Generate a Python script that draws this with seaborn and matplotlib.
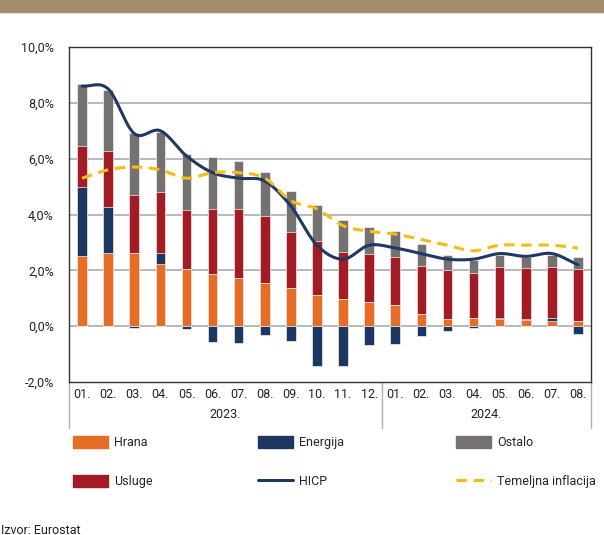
import numpy as np
import pandas as pd
import seaborn as sns
import matplotlib.pyplot as plt
from matplotlib.lines import Line2D
from matplotlib.patches import Patch, Rectangle
import matplotlib.transforms as mtrans

# contributions to HICP, percentage points
months = ['01.', '02.', '03.', '04.', '05.', '06.', '07.', '08.', '09.', '10.', '11.', '12.',
          '01.', '02.', '03.', '04.', '05.', '06.', '07.', '08.']
years = ['2023.', '2024.']
hrana = [2.50, 2.63, 2.61, 2.24, 2.04, 1.88, 1.74, 1.54, 1.35, 1.10, 0.99, 0.87,
         0.77, 0.45, 0.26, 0.29, 0.25, 0.23, 0.19, 0.19]
energija = [2.50, 1.64, -0.05, 0.37, -0.10, -0.55, -0.62, -0.33, -0.54, -1.44, -1.42, -0.68,
            -0.64, -0.37, -0.18, -0.05, 0.04, 0.02, 0.12, -0.29]
usluge = [1.45, 2.02, 2.09, 2.20, 2.13, 2.30, 2.44, 2.39, 2.04, 1.95, 1.68, 1.73,
          1.72, 1.72, 1.74, 1.63, 1.84, 1.85, 1.82, 1.86]
ostalo = [2.22, 2.17, 2.22, 2.13, 2.01, 1.88, 1.72, 1.59, 1.46, 1.30, 1.13, 0.96,
          0.91, 0.78, 0.55, 0.46, 0.42, 0.37, 0.42, 0.41]
hicp = [8.6, 8.5, 6.9, 7.0, 6.1, 5.5, 5.3, 5.2, 4.3, 2.9, 2.4, 2.9,
        2.8, 2.6, 2.4, 2.4, 2.6, 2.5, 2.6, 2.2]
temeljna = [5.3, 5.6, 5.7, 5.6, 5.3, 5.5, 5.5, 5.3, 4.5, 4.2, 3.6, 3.4,
            3.3, 3.1, 2.9, 2.7, 2.9, 2.9, 2.9, 2.8]

C_HRANA = '#e56d26'
C_ENERG = '#1d3763'
C_OSTALO = '#767171'
C_USLUGE = '#a31c25'
C_HICP = '#1f3864'
C_CORE = '#f6bd10'


def smooth(y, n=24):
  # catmull-rom style smoothing like excel "smoothed line"
  y = np.asarray(y, dtype=float)
  p = np.concatenate([[2 * y[0] - y[1]], y, [2 * y[-1] - y[-2]]])
  xs, ys = [], []
  for i in range(len(y) - 1):
    p0, p1, p2, p3 = p[i], p[i + 1], p[i + 2], p[i + 3]
    t = np.linspace(0, 1, n, endpoint=False)
    v = 0.5 * ((2 * p1) + (-p0 + p2) * t + (2 * p0 - 5 * p1 + 4 * p2 - p3) * t ** 2
               + (-p0 + 3 * p1 - 3 * p2 + p3) * t ** 3)
    xs.append(i + t)
    ys.append(v)
  xs.append([len(y) - 1])
  ys.append([y[-1]])
  return np.concatenate(xs), np.concatenate(ys)


sns.set_style('white')
plt.rcParams['font.family'] = ['Roboto', 'DejaVu Sans']
plt.rcParams['font.size'] = 9

fig = plt.figure(figsize=(6.04, 5.35), dpi=100)
ax = fig.add_axes([69 / 604, 1 - 382 / 535, 522 / 604, 335 / 535])

idx = np.arange(len(months))
pos_energy = np.clip(energija, 0, None)
neg_energy = np.clip(energija, None, 0)
top_food = np.array(hrana)
top_energy = top_food + pos_energy
top_serv = top_energy + np.array(usluge)
top_other = top_serv + np.array(ostalo)

df = pd.DataFrame(dict(x=idx, other=top_other, serv=top_serv, energy=top_energy,
                       food=top_food, neg=neg_energy))
# overdraw cumulative heights from tallest to shortest -> stacked look
for col, c in [('other', C_OSTALO), ('serv', C_USLUGE), ('energy', C_ENERG),
               ('food', C_HRANA), ('neg', C_ENERG)]:
  sns.barplot(data=df, x='x', y=col, color=c, width=0.37, ax=ax,
              edgecolor='#f4f0f0', linewidth=0.5, saturation=1)

for y in [0, 2, 4, 6, 8]:
  ax.axhline(y, color='#b3b3b3', lw=1.3, zorder=0)

xs, ys = smooth(hicp)
ax.plot(xs, ys, color=C_HICP, lw=2.2, zorder=5)
xs, ys = smooth(temeljna)
ax.plot(xs, ys, color=C_CORE, lw=2.2, ls=(0, (3.4, 2.2)), zorder=5)

ax.set_xlim(-0.5, len(months) - 0.5)
ax.set_ylim(-2, 10)
ax.set_yticks(np.arange(-2, 10.1, 2))
ax.set_yticklabels(['{:.1f}%'.format(v).replace('.', ',') for v in np.arange(-2, 10.1, 2)])
ax.set_xticks(idx)
ax.set_xticklabels(months)
ax.tick_params(axis='both', length=0, colors='#222222', labelsize=9)
ax.tick_params(axis='y', pad=11)
ax.tick_params(axis='x', pad=4)
ax.set_xlabel('')
ax.set_ylabel('')
for s in ax.spines.values():
  s.set_visible(True)
  s.set_color('#333333')
  s.set_linewidth(1.0)

# year separators and labels below axis
trans = mtrans.blended_transform_factory(ax.transData, fig.transFigure)
for xv in [-0.5, 11.5, 19.5]:
  ax.add_line(Line2D([xv, xv], [1 - 382 / 535, 1 - 428 / 535], transform=trans,
                     color='#b0b0b0', lw=1, clip_on=False))
ax.text(5.5, 1 - 414 / 535, years[0], transform=trans, ha='center', va='center',
        fontsize=9, color='#222222')
ax.text(15.5, 1 - 414 / 535, years[1], transform=trans, ha='center', va='center',
        fontsize=9, color='#222222')

# legend in three columns
leg_kw = dict(frameon=False, fontsize=9, handlelength=2.8, handleheight=1.05,
              handletextpad=0.5, labelspacing=2.1, borderaxespad=0, borderpad=0,
              loc='upper left')
fig.legend(handles=[Patch(color=C_HRANA, label='Hrana'), Patch(color=C_USLUGE, label='Usluge')],
           bbox_to_anchor=(73 / 604, 1 - 436 / 535), **leg_kw)
fig.legend(handles=[Patch(color=C_ENERG, label='Energija'),
                    Line2D([], [], color=C_HICP, lw=2.2, label='HICP')],
           bbox_to_anchor=(258 / 604, 1 - 436 / 535), **leg_kw)
fig.legend(handles=[Patch(color=C_OSTALO, label='Ostalo'),
                    Line2D([], [], color=C_CORE, lw=2.2, ls=(0, (3.4, 2.2)), label='Temeljna inflacija')],
           bbox_to_anchor=(456 / 604, 1 - 436 / 535), **leg_kw)

fig.text(1 / 604, 1 - 530 / 535, 'Izvor: Eurostat', fontsize=9, color='#222222',
         ha='left', va='center')

fig.patches.append(Rectangle((0, 1 - 12 / 535), 1, 12 / 535, transform=fig.transFigure,
                             color='#a58b6e', zorder=0))

plt.savefig('out.png', dpi=100)
